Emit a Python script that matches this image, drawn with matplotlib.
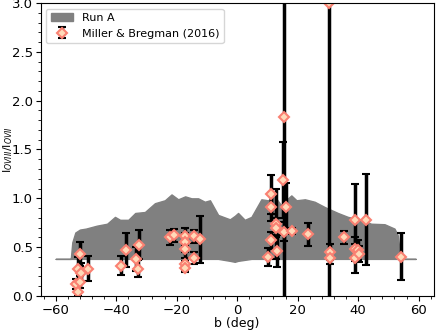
import matplotlib
matplotlib.use('Agg')
import matplotlib.pyplot as plt
from matplotlib.ticker import AutoMinorLocator

# simulated band (Run A)
band_b = [-60, -55, -54.5, -53.5, -52, -50, -46.4, -43, -40.4, -38.7, -36, -33.7,
          -30.5, -27.2, -23.9, -21.7, -19.5, -17.2, -15.1, -12.9, -10.7, -9, -6.3,
          -2.4, -0.8, 0.3, 2.5, 4.7, 8.0, 10.2, 12.4, 14.5, 16.8, 17.9, 19.6, 22.4,
          25.6, 29, 33.3, 36.6, 41, 44.3, 48.7, 52, 53.1, 54, 59]
band_hi = [0.38, 0.38, 0.55, 0.65, 0.68, 0.69, 0.72, 0.74, 0.81, 0.78, 0.78, 0.85,
           0.86, 0.95, 0.98, 1.04, 0.99, 1.02, 1.0, 1.0, 0.965, 0.98, 0.83,
           0.785, 0.82, 0.85, 0.78, 0.81, 0.99, 0.98, 1.02, 0.93, 1.0, 1.03, 0.98, 0.99,
           0.965, 0.91, 0.85, 0.81, 0.78, 0.74, 0.735, 0.69, 0.62, 0.38, 0.38]
band_lo = [0.38, 0.38, 0.38, 0.38, 0.38, 0.38, 0.38, 0.38, 0.38, 0.38, 0.38, 0.38,
           0.38, 0.38, 0.38, 0.38, 0.38, 0.38, 0.38, 0.38, 0.38, 0.38, 0.38,
           0.36, 0.35, 0.36, 0.37, 0.38, 0.38, 0.38, 0.38, 0.38, 0.38, 0.38, 0.38, 0.38,
           0.38, 0.38, 0.38, 0.38, 0.38, 0.38, 0.38, 0.38, 0.38, 0.38, 0.38]

# Miller & Bregman (2016) sightlines
mb_b = [-53.4, -52.7, -52.7, -52.1, -52.0, -51.6, -49.4, -38.5, -36.7, -33.5, -32.8,
        -32.3, -22.1, -20.9, -17.1, -17.1, -17.1, -17.1, -17.1, -14.2, -14.2, -12.4,
        10.3, 11.1, 11.1, 11.1, 12.8, 12.9, 13.2, 15.2, 15.5, 15.5, 16.0, 18.2, 23.5,
        30.4, 30.7, 30.7, 35.4, 38.8, 38.8, 38.8, 40.0, 40.2, 42.5, 54.1]
mb_ratio = [0.12, 0.04, 0.28, 0.43, 0.14, 0.24, 0.28, 0.31, 0.47, 0.38, 0.28,
            0.525, 0.60, 0.62, 0.61, 0.55, 0.48, 0.33, 0.29, 0.61, 0.39, 0.58,
            0.40, 1.04, 0.91, 0.57, 0.74, 0.70, 0.46, 1.19, 1.83, 0.66, 0.91, 0.665, 0.63,
            3.0, 0.45, 0.39, 0.60, 0.78, 0.48, 0.385, 0.47, 0.43, 0.78, 0.40]
mb_err = [0.05, 0.04, 0.12, 0.12, 0.06, 0.10, 0.125, 0.095, 0.17, 0.12, 0.09,
          0.15, 0.08, 0.07, 0.09, 0.10, 0.12, 0.06, 0.04, 0.07, 0.06, 0.24,
          0.09, 0.2, 0.14, 0.09, 0.36, 0.1, 0.16, 0.39, 2.0, 0.1, 0.25, 0.03, 0.115,
          3.2, 0.08, 0.06, 0.07, 0.37, 0.12, 0.15, 0.1, 0.08, 0.465, 0.24]

fig = plt.figure(figsize=(4.36, 3.30), dpi=100)
ax = fig.add_axes([0.093, 0.103, 0.902, 0.888])

ax.fill_between(band_b, band_lo, band_hi, color='gray', label='Run A')
ax.errorbar(mb_b, mb_ratio, yerr=mb_err, fmt='D', color='black', ecolor='black',
            elinewidth=2.5, capsize=3, capthick=1.5, ms=5, mfc='peachpuff',
            mec='salmon', mew=1.5, label='Miller & Bregman (2016)')

ax.set_xlim(-65, 65)
ax.set_ylim(0, 3)
ax.xaxis.set_minor_locator(AutoMinorLocator(5))
ax.yaxis.set_minor_locator(AutoMinorLocator(5))
ax.tick_params(labelsize=9.5, pad=2)
ax.set_xlabel('b (deg)', fontsize=9, labelpad=0)
ax.set_ylabel(r'I$_{OVIII}$/I$_{OVII}$', fontsize=8)
ax.yaxis.set_label_coords(-0.066, 0.5)
ax.legend(loc='upper left', fontsize=8)

fig.savefig('out.png', dpi=100)
